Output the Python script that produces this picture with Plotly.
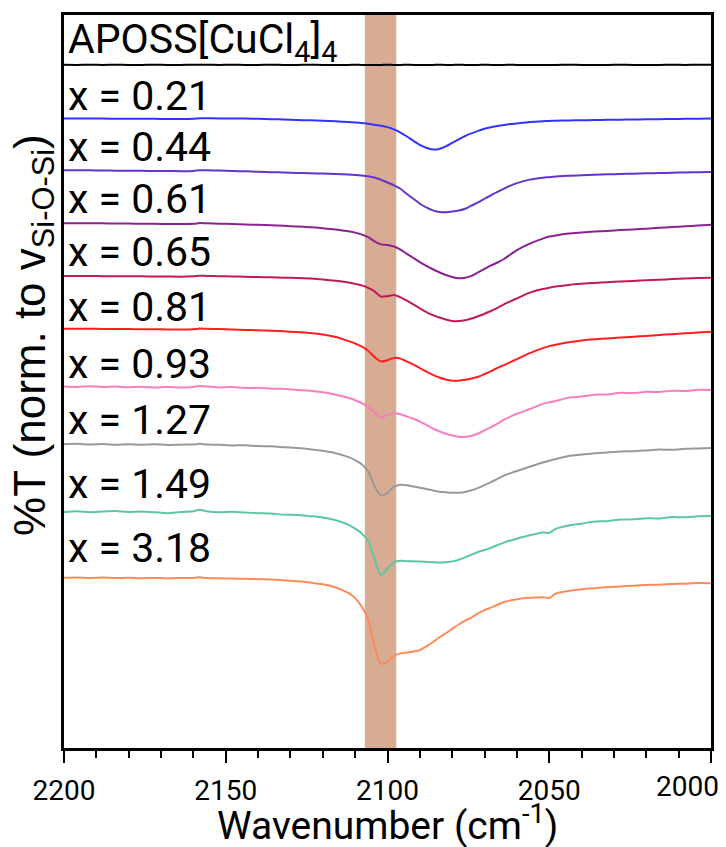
import plotly.graph_objects as go

# Wavenumber grid (cm^-1) shared by all spectra
wavenumber = [2200, 2196, 2192, 2188, 2184, 2180, 2176, 2172, 2168, 2164, 2160, 2158, 2156,
              2152, 2148, 2144, 2140, 2136, 2132, 2128, 2124, 2120, 2116, 2112,
              2110, 2108, 2106, 2104, 2102, 2100, 2098, 2096, 2094, 2092, 2090, 2088, 2086,
              2084, 2082, 2080, 2078, 2076, 2074, 2072, 2070, 2068, 2066, 2064, 2062, 2060,
              2056, 2052, 2050, 2048, 2044, 2040, 2036, 2032, 2028, 2024, 2020, 2016, 2012,
              2008, 2004, 2000]

# Drop in normalised transmittance below each spectrum's own baseline
drop_aposs = [0, 0.01, 0, 0.01, 0, 0.01, 0.01, 0, 0.01, 0.01, 0, -0.01, 0, 0.01, 0, 0.01,
              0.01, 0, 0.01, 0.01, 0, 0.01, 0.01, 0.01, 0, 0.01, 0.01, 0.01, 0.01, 0, 0.01,
              0.01, 0, 0.01, 0.01, 0.01, 0.01, 0, 0.01, 0.01, 0, 0.01, 0.01, 0.01, 0, 0.01,
              0.01, 0.01, 0, 0.01, 0.01, 0.02, 0.01, 0.01, 0, 0.01, 0.01, 0.01, 0, 0.01,
              0.01, 0.01, 0, 0.01, 0, 0]
drop_021 = [0, 0, 0, 0, 0.02, 0.02, 0.03, 0.03, 0.04, 0.05, 0.03, -0.04, -0.03, -0.02, -0.01,
            0, 0.03, 0.06, 0.1, 0.14, 0.18, 0.23, 0.28, 0.35, 0.39, 0.44, 0.52, 0.62, 0.72,
            0.86, 1.08, 1.4, 1.8, 2.23, 2.63, 2.93, 3.1, 3.05, 2.8, 2.45, 2.1, 1.75, 1.48,
            1.23, 1.03, 0.88, 0.75, 0.64, 0.55, 0.48, 0.35, 0.27, 0.24, 0.22, 0.19, 0.17,
            0.15, 0.13, 0.11, 0.1, 0.08, 0.06, 0.05, 0.03, 0.02, 0]
drop_044 = [0, 0, 0, 0.02, 0.03, 0.04, 0.05, 0.06, 0.07, 0.08, 0.06, -0.02, 0, 0.02,
            0.06, 0.1, 0.14, 0.18, 0.22, 0.26, 0.29, 0.32, 0.36, 0.42, 0.46, 0.51, 0.59,
            0.72, 0.94, 1.22, 1.5, 1.85, 2.38, 2.85, 3.35, 3.72, 4.02, 4.17, 4.2, 4.13,
            4.03, 3.85, 3.53, 3.22, 2.85, 2.5, 2.15, 1.83, 1.53, 1.28, 0.93, 0.74, 0.68,
            0.62, 0.53, 0.48, 0.44, 0.4, 0.36, 0.33, 0.3, 0.27, 0.24, 0.21, 0.19, 0.17]
drop_061 = [0, 0, 0.01, 0.02, 0.03, 0.04, 0.06, 0.07, 0.08, 0.09, 0.07, -0.01, 0.02, 0.05,
            0.09, 0.13, 0.17, 0.21, 0.27, 0.33, 0.4, 0.5, 0.63, 0.82, 0.95, 1.15, 1.4,
            1.83, 2.13, 2.2, 2.35, 2.65, 3.08, 3.5, 3.92, 4.3, 4.63, 4.93, 5.2, 5.4, 5.53,
            5.48, 5.3, 4.95, 4.6, 4.25, 3.95, 3.6, 3.15, 2.7, 2.05, 1.55, 1.35, 1.23, 1.05,
            0.95, 0.85, 0.78, 0.7, 0.63, 0.55, 0.47, 0.39, 0.31, 0.24, 0.17]
drop_065 = [0, 0, 0.01, 0.02, 0.03, 0.03, 0.04, 0.05, 0.06, 0.07, 0.04, -0.02, 0, 0.02,
            0.05, 0.08, 0.11, 0.14, 0.17, 0.2, 0.26, 0.35, 0.48, 0.65, 0.8, 0.95, 1.2, 1.55,
            2.08, 2.03, 1.92, 2.15, 2.48, 2.85, 3.25, 3.63, 3.93, 4.18, 4.38, 4.52, 4.53,
            4.45, 4.28, 4.05, 3.8, 3.52, 3.2, 2.85, 2.55, 2.25, 1.68, 1.32, 1.18, 1.07, 0.9,
            0.79, 0.7, 0.63, 0.56, 0.5, 0.44, 0.38, 0.32, 0.26, 0.21, 0.17]
drop_081 = [0, 0, 0.01, 0.02, 0.03, 0.04, 0.05, 0.06, 0.07, 0.08, 0.05, -0.01, 0.01, 0.04,
            0.08, 0.12, 0.16, 0.21, 0.26, 0.32, 0.42, 0.58, 0.84, 1.25, 1.48, 1.78, 2.22,
            2.85, 3.3, 3.15, 2.93, 3.0, 3.3, 3.6, 3.95, 4.3, 4.63, 4.9, 5.1, 5.22, 5.22,
            5.13, 5.0, 4.83, 4.55, 4.25, 3.94, 3.65, 3.35, 3.05, 2.45, 1.95, 1.75, 1.6,
            1.35, 1.18, 1.06, 0.97, 0.89, 0.8, 0.72, 0.63, 0.55, 0.46, 0.38, 0.3]
drop_093 = [0, 0.04, -0.03, 0.05, 0.01, 0.08, 0.03, 0.1, 0.05, 0.11, 0.04, -0.05, 0.01,
            0.09, 0.06, 0.16, 0.14, 0.23, 0.24, 0.36, 0.43, 0.58, 0.82, 1.16, 1.38, 1.66,
            2.05, 2.6, 3.1, 2.86, 2.68, 2.78, 3.02, 3.24, 3.52, 3.86, 4.22, 4.5, 4.75, 4.92,
            5.04, 5.06, 4.95, 4.72, 4.4, 4.08, 3.72, 3.34, 3.02, 2.74, 2.26, 1.75, 1.58,
            1.46, 1.12, 1.01, 0.82, 0.8, 0.64, 0.66, 0.54, 0.55, 0.42, 0.46, 0.33, 0.36]
drop_127 = [0, -0.04, 0.03, -0.02, 0.05, 0.01, 0.06, -0.01, 0.07, 0.04, 0.03, -0.04, 0.03,
            0.05, 0.12, 0.09, 0.18, 0.2, 0.29, 0.38, 0.5, 0.66, 0.9, 1.3, 1.6, 2.0, 2.7,
            4.2, 5.15, 4.9, 4.25, 4.06, 4.12, 4.24, 4.36, 4.5, 4.64, 4.76, 4.82, 4.88, 4.86,
            4.79, 4.62, 4.38, 4.1, 3.8, 3.48, 3.16, 2.9, 2.68, 2.26, 1.84, 1.66, 1.48, 1.18,
            1.04, 0.9, 0.82, 0.72, 0.7, 0.62, 0.54, 0.56, 0.46, 0.42, 0.37]
drop_149 = [0, -0.06, 0.02, -0.05, -0.09, 0.01, -0.04, 0.03, 0.12, 0, -0.08, -0.22, -0.08,
            0.04, -0.02, 0.06, 0.12, 0.16, 0.28, 0.3, 0.42, 0.56, 0.84, 1.3, 1.68, 2.15,
            2.9, 4.7, 6.35, 5.7, 5.05, 4.9, 4.94, 4.96, 4.98, 5.02, 5.06, 5.07, 5.04, 4.96,
            4.8, 4.56, 4.28, 4.02, 3.82, 3.6, 3.32, 3.08, 2.86, 2.68, 2.34, 2.05, 2.1, 1.7,
            1.36, 1.18, 0.96, 0.92, 0.76, 0.74, 0.62, 0.66, 0.5, 0.54, 0.42, 0.4]
drop_318 = [0, -0.03, 0.02, -0.02, 0.04, 0, 0.05, 0.02, 0.06, 0.03, 0.02, -0.04, 0.03, 0.06,
            0.09, 0.1, 0.15, 0.19, 0.27, 0.36, 0.49, 0.66, 0.98, 1.55, 2.05, 2.9, 4.2, 6.9,
            8.65, 8.45, 7.85, 7.6, 7.52, 7.42, 7.26, 6.9, 6.48, 6.0, 5.58, 5.14, 4.7, 4.32,
            4.0, 3.58, 3.26, 3.0, 2.72, 2.44, 2.28, 2.16, 2.02, 1.96, 2.04, 1.6, 1.34, 1.16,
            1.06, 0.94, 0.88, 0.8, 0.74, 0.7, 0.64, 0.6, 0.54, 0.57]

sample_labels = ["APOSS[CuCl<sub>4</sub>]<sub>4</sub>", "x = 0.21", "x = 0.44", "x = 0.61",
                 "x = 0.65", "x = 0.81", "x = 0.93", "x = 1.27", "x = 1.49", "x = 3.18"]
spectra = [drop_aposs, drop_021, drop_044, drop_061, drop_065, drop_081, drop_093,
           drop_127, drop_149, drop_318]
# vertical stacking offset of each spectrum
offsets = [68.6, 63.2, 58.0, 52.7, 47.4, 42.1, 36.3, 30.5, 23.7, 17.1]
# vertical position of each sample label
label_y = [70.9, 65.5, 60.3, 55.1, 49.8, 44.3, 38.6, 32.9, 26.5, 20.1]
colors = ["#000000", "#3333FF", "#6633CC", "#8C2290", "#C21A55", "#FF1F1F", "#F77FBF",
          "#999999", "#5CC7A0", "#FF8A5C"]

tick_values = [2200, 2150, 2100, 2050, 2000]

# highlighted band (cm^-1)
band = (2107.0, 2097.3)

for s in spectra:
    assert len(s) == len(wavenumber)

fig = go.Figure()

fig.add_shape(type="rect", xref="x", yref="paper", x0=band[0], x1=band[1], y0=0, y1=1,
              fillcolor="#D8AB93", line=dict(width=0), layer="below")

for lab, drop, off, col in zip(sample_labels, spectra, offsets, colors):
    fig.add_trace(go.Scatter(
        x=wavenumber, y=[off - d for d in drop], mode="lines", name=lab,
        line=dict(color=col, width=2, shape="spline", smoothing=0.7),
        showlegend=False, hoverinfo="skip"))

for lab, yv in zip(sample_labels, label_y):
    fig.add_annotation(x=2199.5, y=yv, xref="x", yref="y", text=lab, showarrow=False,
                       xanchor="left", yanchor="middle",
                       font=dict(family="Roboto", size=41, color="black"))

# the last tick label is pulled inside the page edge
tick_font = dict(family="Roboto", size=28, color="black")
fig.add_annotation(x=1.0155, y=-0.053, xref="paper", yref="paper",
                   text=str(tick_values[-1]), showarrow=False,
                   xanchor="right", yanchor="middle", font=tick_font)

fig.add_annotation(x=0.5, y=-0.103, xref="paper", yref="paper",
                   text="Wavenumber (cm<sup>-1</sup>)", showarrow=False,
                   xanchor="center", yanchor="middle",
                   font=dict(family="Roboto", size=39, color="black"))

fig.add_annotation(x=-0.049, y=0.564, xref="paper", yref="paper",
                   text="%T (norm. to v<sub>Si-O-Si</sub>)", showarrow=False, textangle=-90,
                   xanchor="center", yanchor="middle",
                   font=dict(family="Liberation Sans, Arial", size=44, color="black"))

fig.update_xaxes(range=[2200, 2000], tickvals=tick_values,
                 ticktext=[str(v) for v in tick_values[:-1]] + [""],
                 ticks="outside", ticklen=12, tickwidth=2, tickcolor="black",
                 ticklabelstandoff=4,
                 minor=dict(dtick=10, ticks="outside", ticklen=7, tickwidth=2,
                            tickcolor="black"),
                 showline=True, linewidth=2.5, linecolor="black", mirror=True,
                 showgrid=False, zeroline=False, tickfont=tick_font)
fig.update_yaxes(range=[0, 73.6], showticklabels=False, ticks="",
                 showline=True, linewidth=2.5, linecolor="black", mirror=True,
                 showgrid=False, zeroline=False)

fig.update_layout(width=726, height=847, margin=dict(l=64, r=14, t=12, b=99),
                  plot_bgcolor="white", paper_bgcolor="white")

fig.write_html("out.html")
